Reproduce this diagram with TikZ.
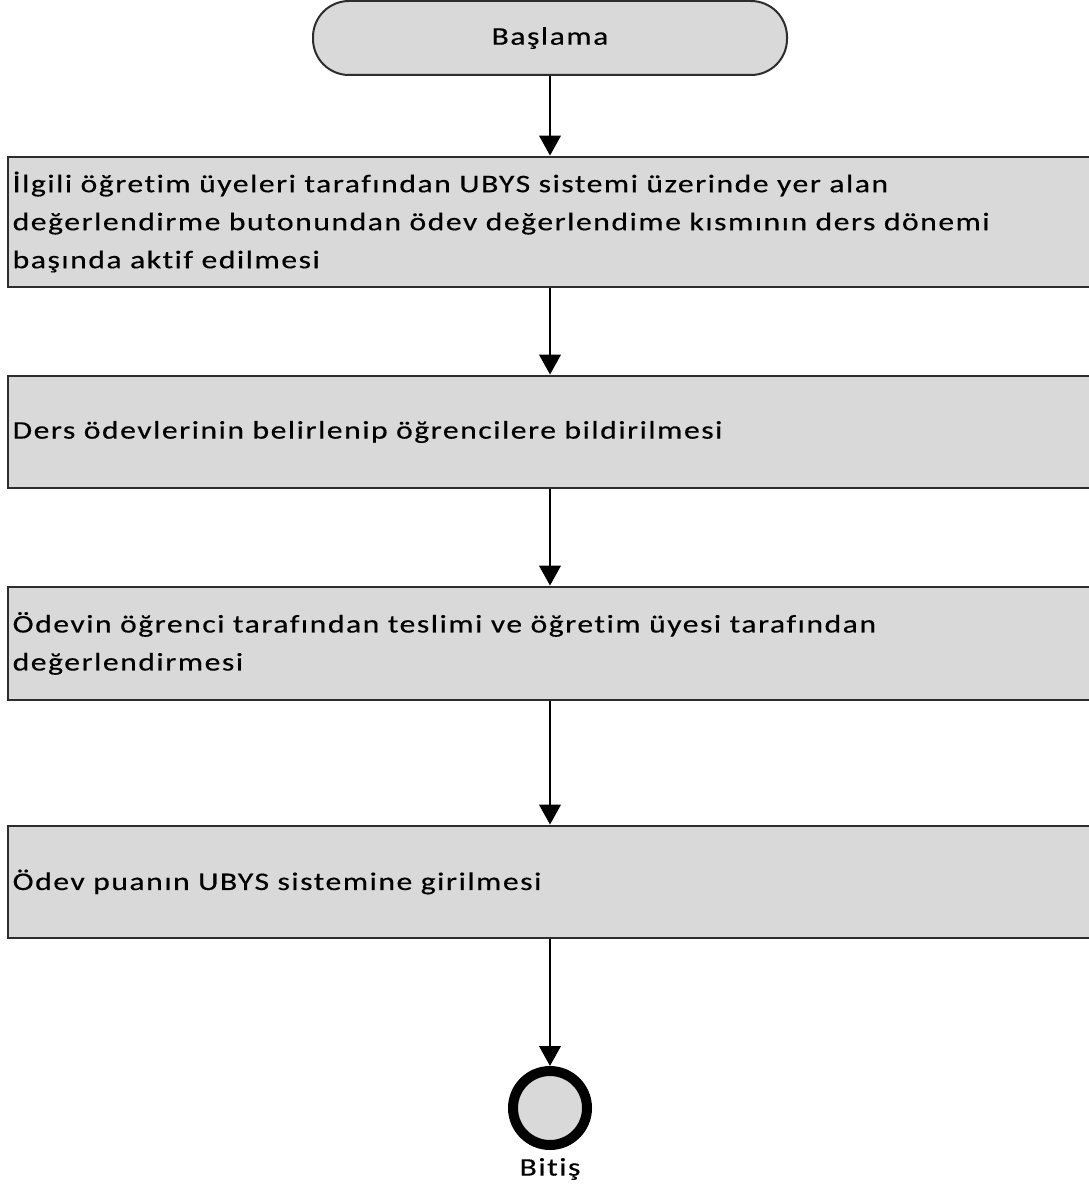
\documentclass[tikz,border=0pt]{standalone}
\usepackage{fontspec}
\setmainfont{Carlito}
\newfontfamily\boxfont[FakeStretch=1.25, LetterSpace=6, FakeBold=0.4, Ligatures=NoCommon]{Carlito}
\usetikzlibrary{arrows.meta}
\definecolor{boxfill}{RGB}{217,217,217}
\definecolor{boxline}{RGB}{45,45,45}
\begin{document}
\begin{tikzpicture}[x=0.75pt,y=-0.75pt,
  procbox/.style={draw=boxline, fill=boxfill, line width=2.1pt, rectangle,
    minimum width=813pt, text width=806pt, inner xsep=3pt, align=left,
    font=\boxfont\fontsize{19}{28.5}\selectfont},
  termbox/.style={draw=boxline, fill=boxfill, line width=1.5pt, rectangle,
    rounded corners=27pt, minimum width=355.5pt, minimum height=55.5pt,
    font=\boxfont\fontsize{19}{24}\selectfont},
  endcirc/.style={draw=black, fill=boxfill, line width=7.5pt, circle,
    minimum size=55.5pt, inner sep=0pt},
  arr/.style={draw=black, line width=2.2pt, -{Triangle[width=16pt,length=15pt]}}]
\useasboundingbox (0,0) rectangle (1088,1191);
\node[termbox] (start) at (550,38) {Başlama};
\node[procbox, minimum height=97.5pt] (b1) at (550,222)
  {İlgili öğretim üyeleri tarafından UBYS sistemi üzerinde yer alan\\
   değerlendirme butonundan ödev değerlendime kısmının ders dönemi\\
   başında aktif edilmesi};
\node[procbox, minimum height=84pt] (b2) at (550,432)
  {Ders ödevlerinin belirlenip öğrencilere bildirilmesi};
\node[procbox, minimum height=84.75pt] (b3) at (550,643.5)
  {Ödevin öğrenci tarafından teslimi ve öğretim üyesi tarafından\\
   değerlendirmesi};
\node[procbox, minimum height=84pt] (b4) at (550,882)
  {Ödev puanın UBYS sistemine girilmesi};
\node[endcirc] (end) at (550,1108) {};
\node[font=\boxfont\fontsize{19}{24}\selectfont] (endlbl) at (550,1169) {Bitiş};
\draw[arr] (start) -- (b1);
\draw[arr] (b1) -- (b2);
\draw[arr] (b2) -- (b3);
\draw[arr] (b3) -- (b4);
\draw[arr] (b4) -- (end);
\end{tikzpicture}
\end{document}
